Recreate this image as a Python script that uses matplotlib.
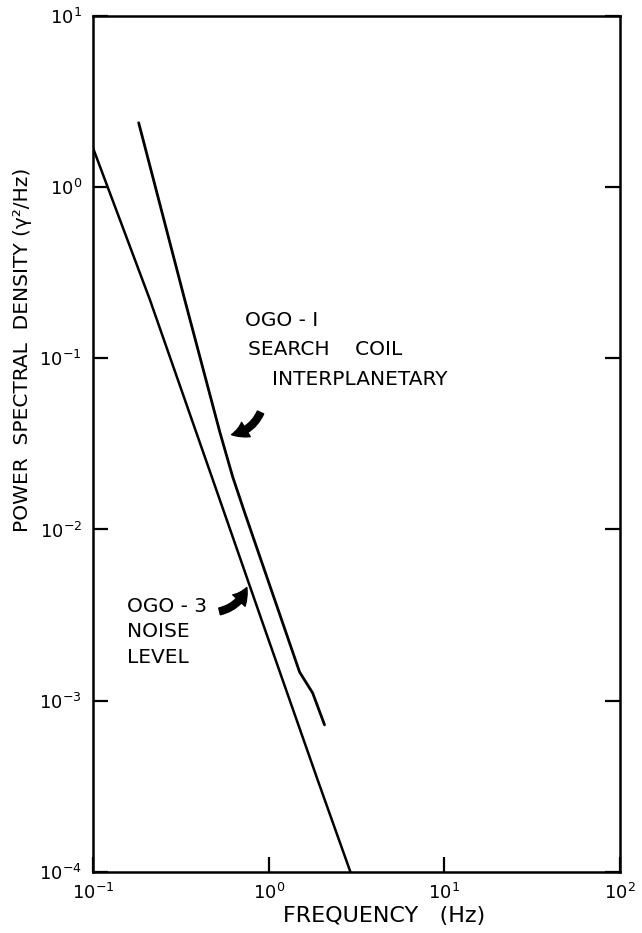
import matplotlib
matplotlib.use("Agg")
import matplotlib.pyplot as plt
from matplotlib.patches import FancyArrowPatch
from matplotlib.ticker import FixedLocator, FixedFormatter, NullLocator

# ---- data ----
noise_freq = [0.100, 0.211, 0.481, 0.912, 1.90, 2.92]
noise_psd = [1.69, 0.219, 0.0195, 0.00296, 3.45e-4, 1.0e-4]

ogo1_freq = [0.182, 0.333, 0.527, 0.624, 0.731, 1.186, 1.50, 1.78, 2.08]
ogo1_psd = [2.37, 0.219, 0.0371, 0.0203, 0.0125, 0.00296, 1.47e-3, 1.11e-3, 7.23e-4]

x_ticks = [0.1, 1.0, 10.0, 100.0]
x_tick_labels = ["$10^{-1}$", "$10^{0}$", "$10^{1}$", "$10^{2}$"]
y_ticks = [1e-4, 1e-3, 1e-2, 1e-1, 1e0, 1e1]
y_tick_labels = ["$10^{-4}$", "$10^{-3}$", "$10^{-2}$", "$10^{-1}$", "$10^{0}$", "$10^{1}$"]

ylabel_text = "POWER  SPECTRAL  DENSITY (\u03b3\u00b2/Hz)"
xlabel_text = "FREQUENCY   (Hz)"

plt.rcParams['font.family'] = ['DejaVu Sans']
plt.rcParams['mathtext.fontset'] = 'dejavusans'

fig = plt.figure(figsize=(6.42, 9.33), dpi=100)
ax = fig.add_axes([93/642, 1-872/933, (620-93)/642, (872-15.7)/933])

ax.plot(noise_freq, noise_psd, color='black', lw=1.8, solid_capstyle='round')
ax.plot(ogo1_freq, ogo1_psd, color='black', lw=2.0, solid_capstyle='round',
        solid_joinstyle='round')

ax.set_xscale('log')
ax.set_yscale('log')
ax.set_xlim(0.1, 100)
ax.set_ylim(1e-4, 10)

ax.xaxis.set_major_locator(FixedLocator(x_ticks))
ax.xaxis.set_major_formatter(FixedFormatter(x_tick_labels))
ax.yaxis.set_major_locator(FixedLocator(y_ticks))
ax.yaxis.set_major_formatter(FixedFormatter(y_tick_labels))
ax.xaxis.set_minor_locator(NullLocator())
ax.yaxis.set_minor_locator(NullLocator())

ax.tick_params(axis='both', which='major', direction='in', length=11, width=1.6,
               labelsize=13, top=False, right=True, pad=8)
for s in ax.spines.values():
    s.set_linewidth(1.8)

ax.set_xlabel(xlabel_text, fontsize=16)
ax.xaxis.set_label_coords(0.553, -0.040)
ax.set_ylabel(ylabel_text, fontsize=14.5)
ax.yaxis.set_label_coords(-0.116, 0.610)

# annotations
fs = 14.5
ax.text(0.73, 0.167, "OGO - I", fontsize=fs, va='center', ha='left')
ax.text(0.76, 0.112, "SEARCH    COIL", fontsize=fs, va='center', ha='left')
ax.text(1.05, 0.0747, "INTERPLANETARY", fontsize=fs, va='center', ha='left')

ax.text(0.156, 3.53e-3, "OGO - 3", fontsize=fs, va='center', ha='left')
ax.text(0.156, 2.52e-3, "NOISE", fontsize=fs, va='center', ha='left')
ax.text(0.156, 1.80e-3, "LEVEL", fontsize=fs, va='center', ha='left')

arrow_style = "simple,head_length=1.0,head_width=1.1,tail_width=0.45"
a1 = FancyArrowPatch((0.912, 0.0499), (0.593, 0.0356), arrowstyle=arrow_style,
                     connectionstyle="arc3,rad=-0.3", mutation_scale=11,
                     color='black', transform=ax.transData)
a2 = FancyArrowPatch((0.507, 0.0033), (0.760, 0.00475), arrowstyle=arrow_style,
                     connectionstyle="arc3,rad=0.3", mutation_scale=11,
                     color='black', transform=ax.transData)
ax.add_patch(a1)
ax.add_patch(a2)

fig.savefig("out.png", dpi=100)
